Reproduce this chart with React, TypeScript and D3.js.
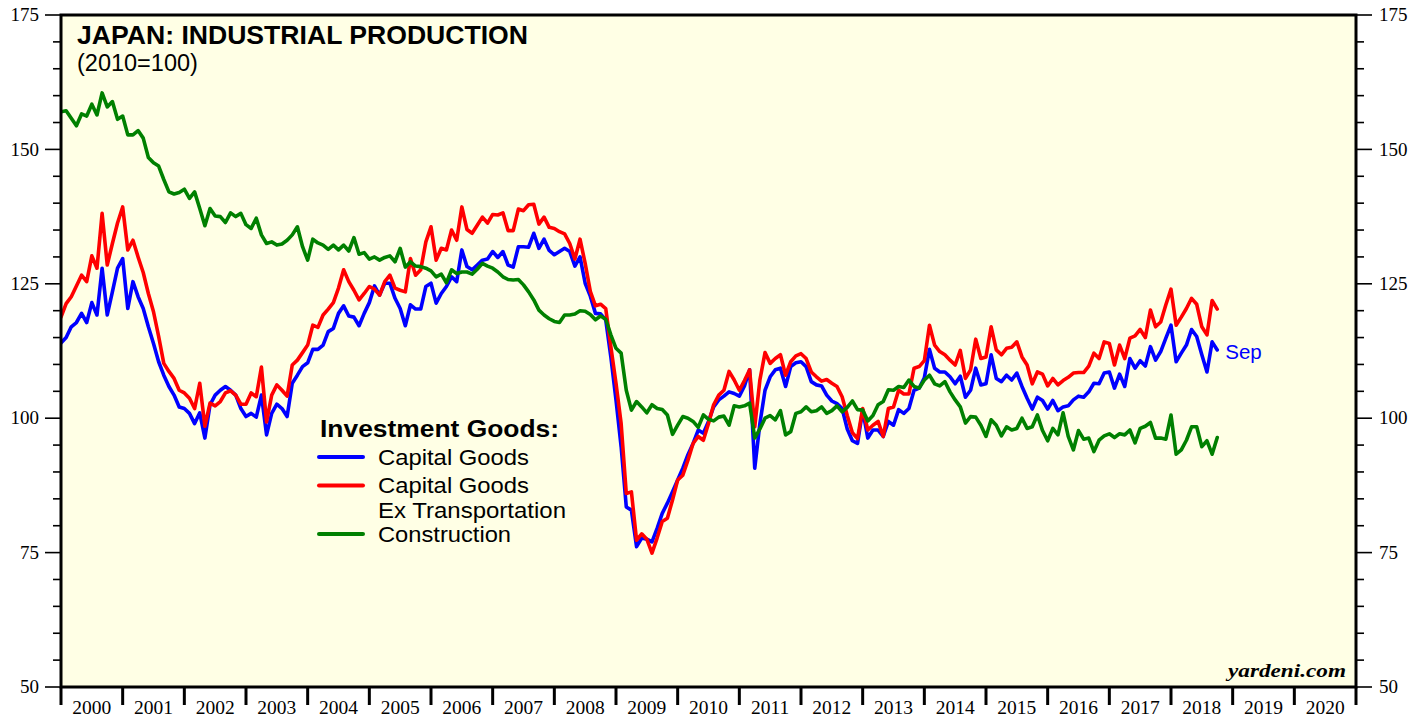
import React from "react";
import * as d3 from "d3";

// Monthly values, first value = Dec 1999, last = Sep 2018
const capitalGoods: number[] = [
  114.0, 115.0, 117.0, 117.8, 119.5, 117.8, 121.5, 119.2, 127.9, 119.2, 123.5, 127.9,
  129.7, 120.4, 125.4, 122.6, 120.4, 117.0, 113.9, 110.5, 108.0, 105.9, 104.3, 102.1,
  101.8, 100.9, 99.0, 101.0, 96.3, 102.5, 104.3, 105.2, 105.9, 105.2, 104.3, 101.8,
  100.3, 100.9, 100.2, 104.3, 96.9, 100.9, 102.6, 101.8, 100.3, 106.5, 108.0, 109.6,
  110.3, 112.8, 112.8, 113.6, 116.1, 116.7, 119.5, 120.9, 119.0, 118.8, 117.2, 119.5,
  121.5, 124.6, 122.9, 125.1, 125.1, 122.3, 120.4, 117.2, 121.1, 120.3, 120.3, 124.5,
  125.1, 121.4, 123.2, 124.5, 126.3, 125.4, 131.3, 128.2, 127.6, 128.5, 129.4, 129.6,
  131.0, 129.9, 131.0, 128.5, 128.1, 131.9, 131.9, 131.8, 134.4, 131.6, 133.3, 131.2,
  130.4, 131.0, 131.6, 131.0, 128.3, 130.0, 125.1, 122.7, 119.5, 119.4, 118.3, 111.4,
  103.4, 94.7, 83.5, 82.9, 76.1, 77.7, 77.5, 77.0, 79.5, 82.3, 84.2, 86.3,
  88.5, 90.7, 93.2, 95.3, 97.8, 97.2, 99.4, 102.1, 103.4, 104.1, 104.9, 104.6,
  104.1, 106.0, 109.0, 90.7, 99.0, 105.2, 107.7, 109.0, 109.3, 105.9, 109.6, 110.3,
  110.5, 109.6, 106.8, 106.2, 106.0, 104.3, 103.2, 102.7, 101.8, 98.0, 95.8, 95.3,
  101.5, 96.3, 97.8, 97.8, 96.6, 99.4, 98.7, 101.6, 100.9, 101.8, 105.2, 105.6,
  107.5, 112.8, 109.3, 108.6, 108.6, 107.7, 106.4, 107.8, 103.9, 105.2, 109.3, 106.2,
  106.4, 111.8, 107.4, 106.8, 108.0, 107.1, 108.4, 105.9, 103.7, 101.7, 103.9, 103.3,
  101.7, 103.3, 101.4, 102.1, 102.3, 103.4, 104.1, 103.9, 104.9, 106.5, 106.4, 108.4,
  108.6, 105.6, 108.2, 105.9, 111.1, 109.3, 110.7, 109.7, 113.3, 110.8, 112.4, 114.9,
  117.3, 110.5, 112.1, 113.6, 116.5, 115.2, 111.8, 108.6, 114.2, 112.7,
];

const capitalGoodsExTransport: number[] = [
  118.8, 121.3, 122.6, 124.6, 126.6, 125.4, 130.2, 127.9, 138.1, 128.5, 132.5, 136.3,
  139.3, 131.3, 133.1, 130.0, 127.1, 123.2, 119.8, 115.2, 110.2, 108.7, 107.4, 105.2,
  104.7, 103.7, 101.8, 106.5, 98.5, 102.8, 102.3, 103.1, 104.7, 105.1, 104.3, 102.6,
  102.6, 104.7, 104.0, 109.5, 99.3, 104.3, 106.2, 105.2, 104.1, 109.9, 110.8, 112.2,
  113.6, 117.3, 116.9, 119.2, 120.3, 121.5, 124.2, 127.6, 125.4, 123.8, 122.0, 123.2,
  124.5, 124.0, 122.9, 125.4, 126.6, 124.2, 123.8, 123.5, 129.7, 126.6, 127.6, 132.8,
  135.6, 129.4, 131.6, 131.3, 135.0, 133.1, 139.3, 135.1, 134.4, 135.9, 137.4, 136.3,
  137.9, 137.8, 138.2, 134.9, 134.9, 138.9, 138.6, 139.7, 139.8, 136.1, 137.4, 135.5,
  135.3, 134.7, 134.3, 132.5, 129.6, 133.3, 128.8, 123.6, 120.9, 121.2, 120.4, 113.3,
  106.5, 99.0, 86.0, 86.3, 77.3, 78.5, 77.5, 74.9, 77.7, 80.8, 81.4, 84.8,
  88.5, 89.4, 92.2, 95.3, 96.6, 95.9, 99.0, 102.5, 104.3, 105.2, 108.7, 107.1,
  105.2, 107.0, 109.0, 98.4, 107.1, 112.2, 110.2, 111.1, 111.8, 108.0, 110.5, 111.6,
  112.0, 111.1, 108.6, 107.7, 106.9, 107.2, 106.5, 105.9, 104.0, 100.5, 97.3, 96.2,
  101.8, 97.8, 98.7, 99.4, 96.6, 101.8, 102.1, 105.2, 104.5, 104.5, 109.3, 109.6,
  110.7, 117.3, 113.6, 112.4, 111.8, 110.8, 109.9, 112.6, 107.4, 109.0, 114.7, 111.1,
  111.4, 117.0, 112.7, 111.8, 113.0, 113.2, 114.2, 111.4, 109.9, 106.4, 108.6, 108.2,
  106.0, 107.4, 106.2, 107.0, 107.6, 108.4, 108.5, 108.5, 109.7, 112.1, 111.1, 114.2,
  113.9, 109.9, 113.6, 111.1, 114.9, 115.3, 116.5, 115.0, 120.1, 117.0, 117.9, 121.1,
  124.0, 117.3, 118.8, 120.4, 122.3, 121.2, 117.0, 115.5, 121.9, 120.3,
];

const construction: number[] = [
  157.0, 157.2, 155.8, 154.4, 156.6, 156.2, 158.4, 156.4, 160.5, 157.9, 158.9, 155.6,
  156.2, 152.7, 152.7, 153.5, 152.1, 148.5, 147.5, 146.9, 144.4, 142.1, 141.7, 142.0,
  142.6, 140.9, 142.1, 139.0, 135.8, 139.0, 137.6, 137.5, 136.4, 138.2, 137.5, 138.1,
  136.0, 135.3, 137.2, 134.1, 132.5, 132.8, 132.2, 132.4, 133.1, 134.1, 135.6, 131.9,
  129.4, 133.3, 132.6, 132.2, 131.4, 132.2, 131.3, 132.2, 131.1, 133.6, 130.5, 130.8,
  129.6, 130.0, 129.4, 129.9, 130.2, 129.1, 131.6, 128.1, 129.1, 128.3, 128.2, 127.9,
  127.4, 126.3, 126.8, 125.2, 127.6, 126.9, 127.2, 127.2, 126.8, 127.7, 128.8, 128.3,
  127.9, 127.2, 126.3, 125.8, 125.7, 125.8, 124.8, 123.5, 122.0, 120.1, 119.2, 118.5,
  118.0, 117.8, 119.2, 119.2, 119.4, 120.0, 119.9, 119.3, 118.3, 119.0, 118.4, 115.5,
  113.0, 112.1, 105.2, 101.5, 103.1, 102.1, 101.0, 102.5, 101.8, 101.6, 100.6, 97.0,
  98.7, 100.3, 100.0, 99.4, 98.3, 100.6, 99.8, 99.5, 100.2, 100.4, 98.7, 102.3,
  102.1, 102.3, 102.8, 96.3, 98.0, 100.0, 100.5, 99.7, 101.4, 96.9, 97.5, 100.9,
  101.2, 102.1, 101.2, 101.4, 102.1, 100.9, 101.4, 102.3, 101.2, 102.0, 103.2, 101.6,
  101.5, 99.5, 100.5, 102.5, 103.1, 105.3, 105.2, 105.9, 105.7, 107.1, 105.9, 105.6,
  107.1, 108.0, 106.4, 106.0, 106.8, 104.9, 103.4, 102.1, 99.1, 100.3, 100.2, 98.7,
  96.6, 99.7, 98.7, 96.7, 98.4, 97.8, 98.1, 100.0, 98.1, 98.4, 100.6, 97.7,
  95.8, 98.1, 96.9, 101.0, 96.6, 94.1, 97.7, 96.1, 96.3, 93.8, 95.9, 96.7,
  97.1, 96.4, 97.1, 96.9, 97.8, 95.4, 98.1, 98.5, 99.2, 96.3, 96.3, 96.1,
  100.6, 93.3, 94.1, 95.9, 98.4, 98.4, 94.7, 95.8, 93.3, 96.4,
];

const yearLabels: number[] = d3.range(2000, 2021);
const yMajorTicks: number[] = [50, 75, 100, 125, 150, 175];
const yMinorTicks: number[] = d3.range(50, 176, 5);

const title = "JAPAN: INDUSTRIAL PRODUCTION";
const subtitle = "(2010=100)";
const legendHeader = "Investment Goods:";
const lastLabel = "Sep";
const credit = "yardeni.com";

const SERIF = "'Liberation Serif', 'Times New Roman', serif";
const SANS = "'Liberation Sans', Arial, Helvetica, sans-serif";

export default function App() {
  const W = 1427;
  const H = 719;
  const L = 61, R = 1356, T = 15, B = 687;
  const x = d3.scaleLinear().domain([2000, 2021]).range([L, R]);
  const y = d3.scaleLinear().domain([50, 175]).range([B, T]);
  // index 0 = Dec 1999, plotted at month end
  const tOf = (i: number) => 2000 + i / 12;
  const line = d3
    .line<number>()
    .x((_, i) => x(tOf(i)))
    .y((d) => y(d));

  const series = [
    { data: capitalGoods, color: "#0000FF" },
    { data: capitalGoodsExTransport, color: "#FF0000" },
    { data: construction, color: "#008000" },
  ];

  const lastIdx = capitalGoods.length - 1;

  return (
    <svg
      width={W}
      height={H}
      style={{ position: "absolute", left: 0, top: 0, background: "#ffffff" }}
    >
      <rect x={L} y={T} width={R - L} height={B - T} fill="#FFFFE5" />
      <defs>
        <clipPath id="plotclip">
          <rect x={L} y={T} width={R - L} height={B - T} />
        </clipPath>
      </defs>

      {/* title */}
      <text x={77} y={44} fontFamily={SANS} fontWeight="bold" fontSize={25} textLength={451} lengthAdjust="spacingAndGlyphs" fill="#000">
        {title}
      </text>
      <text x={77} y={71} fontFamily={SANS} fontSize={23.5} fill="#000">
        {subtitle}
      </text>

      {/* series */}
      <g clipPath="url(#plotclip)">
        {series.map((s, i) => (
          <path
            key={i}
            d={line(s.data) || ""}
            fill="none"
            stroke={s.color}
            strokeWidth={3.6}
            strokeLinejoin="round"
            strokeLinecap="round"
          />
        ))}
      </g>

      <text x={x(tOf(lastIdx)) + 8} y={359} fontFamily={SANS} fontSize={20.5} fill="#0000FF">
        {lastLabel}
      </text>

      {/* legend */}
      <text x={320} y={437} fontFamily={SANS} fontWeight="bold" fontSize={23} textLength={239} lengthAdjust="spacingAndGlyphs" fill="#000">
        {legendHeader}
      </text>
      <line x1={319} x2={363} y1={457} y2={457} stroke="#0000FF" strokeWidth={4} strokeLinecap="round" />
      <text x={378} y={465} fontFamily={SANS} fontSize={21.5} textLength={151} lengthAdjust="spacingAndGlyphs">Capital Goods</text>
      <line x1={319} x2={363} y1={485.5} y2={485.5} stroke="#FF0000" strokeWidth={4} strokeLinecap="round" />
      <text x={378} y={493} fontFamily={SANS} fontSize={21.5} textLength={151} lengthAdjust="spacingAndGlyphs">Capital Goods</text>
      <text x={378} y={517.5} fontFamily={SANS} fontSize={21.5} textLength={188} lengthAdjust="spacingAndGlyphs">Ex Transportation</text>
      <line x1={319} x2={363} y1={534} y2={534} stroke="#008000" strokeWidth={4} strokeLinecap="round" />
      <text x={378} y={541.5} fontFamily={SANS} fontSize={21.5} textLength={133} lengthAdjust="spacingAndGlyphs">Construction</text>

      <text x={1346} y={677} textAnchor="end" fontFamily={SERIF} fontWeight="bold" fontStyle="italic" fontSize={19} textLength={118} lengthAdjust="spacingAndGlyphs">
        {credit}
      </text>

      {/* frame */}
      <rect x={L} y={T} width={R - L} height={B - T} fill="none" stroke="#000" strokeWidth={3} />

      {/* left / right ticks */}
      {yMinorTicks.map((v) => {
        const major = yMajorTicks.includes(v);
        return (
          <g key={v}>
            <line x1={major ? 45 : 53} x2={L} y1={y(v)} y2={y(v)} stroke="#000" strokeWidth={1.6} />
            <line x1={R} x2={major ? 1372 : 1364} y1={y(v)} y2={y(v)} stroke="#000" strokeWidth={1.6} />
          </g>
        );
      })}
      {yMajorTicks.map((v) => (
        <g key={"l" + v} fontFamily={SERIF} fontSize={19} fill="#000">
          <text x={39} y={y(v)} dy="0.33em" textAnchor="end">{v}</text>
          <text x={1379} y={y(v)} dy="0.33em" textAnchor="start">{v}</text>
        </g>
      ))}

      {/* bottom year ticks */}
      {d3.range(2000, 2022).map((yr) => (
        <line key={"t" + yr} x1={x(yr)} x2={x(yr)} y1={B} y2={705} stroke="#000" strokeWidth={3} />
      ))}
      {yearLabels.map((yr) => (
        <text key={"y" + yr} x={x(yr + 0.5)} y={714} textAnchor="middle" fontFamily={SERIF} fontSize={19.5} fill="#000">
          {yr}
        </text>
      ))}
    </svg>
  );
}
